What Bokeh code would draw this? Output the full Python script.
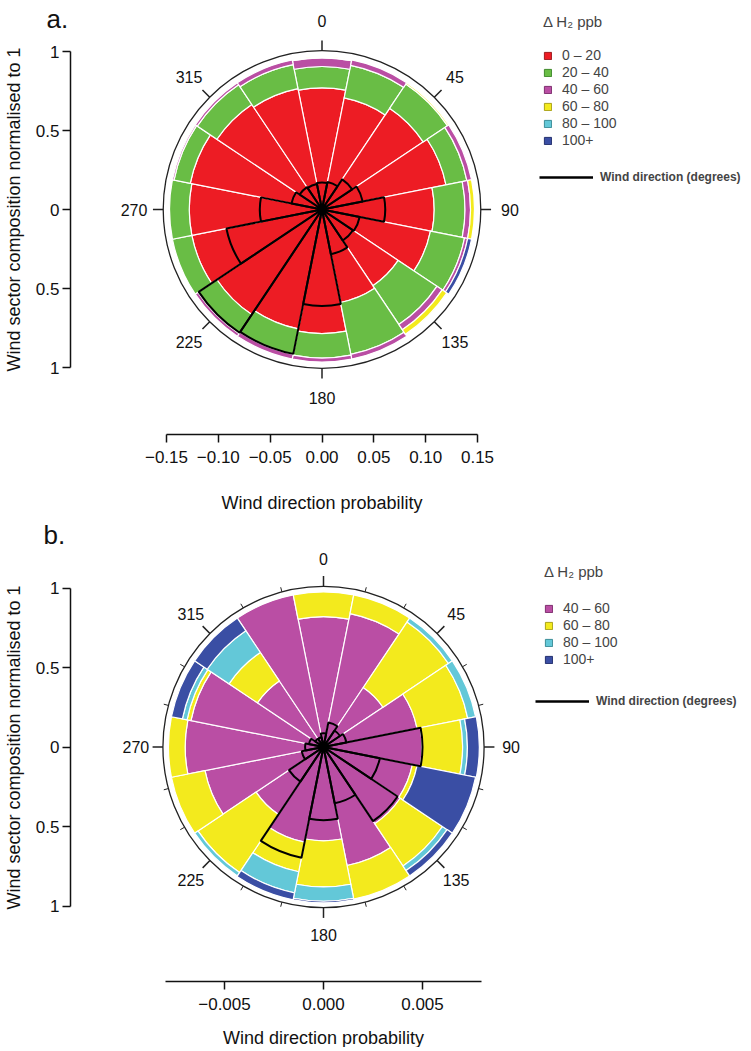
import numpy as np
from bokeh.plotting import figure
from bokeh.models import (LinearAxis, Range1d, FixedTicker, Legend, LegendItem,
                          Label, ColumnDataSource)
from bokeh.layouts import column
from bokeh.embed import file_html
from bokeh.resources import INLINE
from bokeh.core.properties import value

# ---------------- data ----------------
DIRECTIONS = [0, 22.5, 45, 67.5, 90, 112.5, 135, 157.5,
              180, 202.5, 225, 247.5, 270, 292.5, 315, 337.5]
DIR_LABEL_DEG = [0, 45, 90, 135, 180, 225, 270, 315]
DIR_LABELS = ["0", "45", "90", "135", "180", "225", "270", "315"]
MINOR_DEG_B = [15, 30, 60, 75, 105, 120, 150, 165, 195, 210, 240, 255, 285, 300, 330, 345]

COMP_TICKS = [-1, -0.5, 0, 0.5, 1]
COMP_TICK_LABELS = ["1", "0.5", "0", "0.5", "1"]

# panel a : share of each Delta H2 class per wind sector
A_CLASSES = ["0 – 20", "20 – 40", "40 – 60", "60 – 80", "80 – 100", "100+"]
A_0_20 = [0.77, 0.72, 0.77, 0.80, 0.71, 0.70, 0.58, 0.60,
          0.785, 0.77, 0.80, 0.84, 0.84, 0.85, 0.80, 0.78]
A_20_40 = [0.135, 0.21, 0.185, 0.135, 0.195, 0.22, 0.295, 0.335,
           0.155, 0.165, 0.145, 0.125, 0.125, 0.105, 0.15, 0.155]
A_40_60 = [0.055, 0.035, 0.0, 0.03, 0.035, 0.02, 0.04, 0.03,
           0.025, 0.03, 0.02, 0.0, 0.0, 0.01, 0.015, 0.03]
A_60_80 = [0.005, 0.0, 0.01, 0.0, 0.025, 0.0, 0.035, 0.0,
           0.0, 0.0, 0.0, 0.0, 0.0, 0.0, 0.0, 0.0]
A_80_100 = [0.0] * 16
A_100P = [0.0, 0.0, 0.0, 0.0, 0.0, 0.025, 0.0, 0.0,
          0.0, 0.0, 0.0, 0.0, 0.0, 0.0, 0.0, 0.0]
A_PROB = [0.026, 0.027, 0.035, 0.040, 0.061, 0.037, 0.036, 0.044,
          0.093, 0.142, 0.143, 0.094, 0.060, 0.030, 0.026, 0.025]
A_PROB_TICKS = [-0.15, -0.10, -0.05, 0.0, 0.05, 0.10, 0.15]
A_PROB_TICK_LABELS = ["−0.15", "−0.10", "−0.05", "0.00", "0.05", "0.10", "0.15"]

# panel b
B_CLASSES = ["40 – 60", "60 – 80", "80 – 100", "100+"]
B_40_60 = [0.82, 0.855, 0.45, 0.60, 0.62, 0.57, 0.58, 0.76,
           0.59, 0.61, 0.51, 0.76, 0.87, 0.85, 0.50, 0.975]
B_60_80 = [0.155, 0.12, 0.495, 0.325, 0.255, 0.03, 0.32, 0.215,
           0.29, 0.19, 0.44, 0.215, 0.105, 0.025, 0.215, 0.0]
B_80_100 = [0.0, 0.0, 0.03, 0.05, 0.03, 0.0, 0.035, 0.0,
            0.09, 0.135, 0.025, 0.0, 0.0, 0.03, 0.165, 0.0]
B_100P = [0.0, 0.0, 0.0, 0.0, 0.075, 0.375, 0.04, 0.0,
          0.01, 0.045, 0.0, 0.0, 0.0, 0.07, 0.095, 0.0]
B_PROB = [0.0007, 0.00126, 0.0010, 0.00118, 0.0050, 0.0029, 0.0045, 0.0029,
          0.0037, 0.0057, 0.0021, 0.00112, 0.00093, 0.00075, 0.0005, 0.0005]
B_PROB_TICKS = [-0.005, 0.0, 0.005]
B_PROB_TICK_LABELS = ["−0.005", "0.000", "0.005"]

COLORS = {"0 – 20": "#ED1C24", "20 – 40": "#69BD45", "40 – 60": "#BA4EA4",
          "60 – 80": "#F3EA1D", "80 – 100": "#63C8D8", "100+": "#3A4EA4"}
EDGES = {"0 – 20": "#9E1B1F", "20 – 40": "#3F8A2C", "40 – 60": "#7E2F6F",
         "60 – 80": "#A9A21A", "80 – 100": "#3C8D98", "100+": "#24306E"}

FONT = "Liberation Sans"
FIG_W = 745


def make_panel(letter, classes, series, prob, k_prob, prob_ticks, prob_labels,
               prob_bounds, fig_h, cx, cy, unit, axis_x, axis_y, circle_r,
               label_r, minor_deg, legend_pos, line_legend_pos, title_standoff,
               xlab_standoff, xlab_size, letter_pos):
    # all layout positions in canvas pixels from the top-left corner
    x0 = -cx / unit
    x1 = (FIG_W - cx) / unit
    y1 = cy / unit
    y0 = -(fig_h - cy) / unit
    p = figure(width=FIG_W, height=fig_h, x_range=Range1d(x0, x1), y_range=Range1d(y0, y1),
               x_axis_type=None, y_axis_type=None, toolbar_location=None,
               output_backend="svg", min_border=0, outline_line_color=None)

    dirs = np.array(DIRECTIONS, dtype=float)
    start = np.radians(90.0 - dirs - 11.25)
    end = np.radians(90.0 - dirs + 11.25)

    # stacked composition wedges
    inner = np.zeros(len(dirs))
    legend_renderers = []
    for cls, vals in zip(classes, series):
        vals = np.array(vals, dtype=float)
        outer = inner + vals
        keep = vals > 0
        src = ColumnDataSource(dict(inner=inner[keep], outer=outer[keep],
                                    start=start[keep], end=end[keep]))
        p.annular_wedge(x=0, y=0, inner_radius="inner", outer_radius="outer",
                        start_angle="start", end_angle="end",
                        source=src, fill_color=COLORS[cls], line_color="white",
                        line_width=1.2)
        inner = outer
        nan = np.array([np.nan])
        legend_renderers.append(
            p.quad(left=nan, right=nan, top=nan, bottom=nan, fill_color=COLORS[cls],
                   line_color=EDGES[cls], line_width=1))

    # outer circle and direction ticks
    p.circle(x=0, y=0, radius=circle_r, fill_color=None, line_color="#222222",
             line_width=1.3)
    lab = np.radians(np.array(DIR_LABEL_DEG, dtype=float))
    p.segment(x0=circle_r * np.sin(lab), y0=circle_r * np.cos(lab),
              x1=(circle_r + 0.065) * np.sin(lab), y1=(circle_r + 0.065) * np.cos(lab),
              line_color="#222222", line_width=1.5)
    if minor_deg:
        mn = np.radians(np.array(minor_deg, dtype=float))
        p.segment(x0=circle_r * np.sin(mn), y0=circle_r * np.cos(mn),
                  x1=(circle_r + 0.03) * np.sin(mn), y1=(circle_r + 0.03) * np.cos(mn),
                  line_color="#222222", line_width=1)
    p.text(x=label_r * np.sin(lab), y=label_r * np.cos(lab), text=DIR_LABELS,
           text_align="center", text_baseline="middle", text_font=value(FONT),
           text_font_size="16px", text_color="#111111")

    # wind direction probability outlines
    psrc = ColumnDataSource(dict(r=np.array(prob) / k_prob, start=start, end=end))
    p.wedge(x=0, y=0, radius="r", start_angle="start", end_angle="end",
            source=psrc, fill_color=None, line_color="black", line_width=2)
    p.scatter(x=[0], y=[0], size=9, color="black")

    # left composition axis (drawn at a fixed position inside the canvas)
    yax = LinearAxis(ticker=FixedTicker(ticks=COMP_TICKS),
                     major_label_overrides=dict(zip(COMP_TICKS, COMP_TICK_LABELS)),
                     bounds=(-1, 1), axis_label="Wind sector composition normalised to 1",
                     fixed_location=(axis_x - cx) / unit)
    # bottom probability axis
    p.extra_x_ranges = {"prob": Range1d(x0 * k_prob, x1 * k_prob)}
    xax = LinearAxis(x_range_name="prob", ticker=FixedTicker(ticks=prob_ticks),
                     major_label_overrides=dict(zip(prob_ticks, prob_labels)),
                     bounds=prob_bounds, axis_label="Wind direction probability",
                     fixed_location=-(axis_y - cy) / unit)
    for ax in (yax, xax):
        ax.axis_line_color = "#111111"
        ax.axis_line_width = 1.5
        ax.major_tick_line_color = "#111111"
        ax.major_tick_line_width = 1.5
        ax.major_tick_out = 8
        ax.major_tick_in = 0
        ax.minor_tick_out = 0
        ax.minor_tick_in = 0
        ax.major_label_text_font = FONT
        ax.major_label_text_font_size = "17px"
        ax.major_label_text_color = "#111111"
        ax.axis_label_text_font = FONT
        ax.axis_label_text_font_size = "18px"
        ax.axis_label_text_font_style = "normal"
        ax.axis_label_text_color = "#111111"
    yax.major_label_standoff = 3
    yax.axis_label_standoff = 9
    xax.major_label_standoff = 8
    xax.axis_label_standoff = xlab_standoff
    xax.axis_label_text_font_size = xlab_size
    p.add_layout(yax, "left")
    p.add_layout(xax, "below")

    # legends (positions: bottom-left corner, pixels up from the canvas bottom)
    leg = Legend(items=[LegendItem(label=c, renderers=[r])
                        for c, r in zip(classes, legend_renderers)],
                 location=legend_pos, title="Δ H₂ ppb",
                 title_text_font=FONT, title_text_font_size="15px",
                 title_text_font_style="normal", title_standoff=title_standoff,
                 label_text_font=FONT, label_text_font_size="14px",
                 glyph_width=9, glyph_height=9, label_height=13, spacing=1,
                 label_standoff=10, padding=0, margin=0,
                 border_line_alpha=0, background_fill_alpha=0)
    p.add_layout(leg)
    nan = np.array([np.nan])
    line_r = p.line(x=nan, y=nan, line_color="black", line_width=2.5)
    leg2 = Legend(items=[LegendItem(label="Wind direction (degrees)", renderers=[line_r])],
                  location=line_legend_pos, label_text_font=FONT,
                  label_text_font_size="12px", label_text_font_style="bold",
                  glyph_width=54, glyph_height=14, label_height=14,
                  label_standoff=7, padding=0, margin=0,
                  border_line_alpha=0, background_fill_alpha=0)
    p.add_layout(leg2)

    p.add_layout(Label(x=letter_pos[0], y=fig_h - letter_pos[1], x_units="screen",
                       y_units="screen", text=letter, text_font=FONT,
                       text_font_size="26px", text_color="#111111",
                       text_baseline="alphabetic"))
    return p


pa = make_panel("a.", A_CLASSES, [A_0_20, A_20_40, A_40_60, A_60_80, A_80_100, A_100P],
                A_PROB, 0.1524, A_PROB_TICKS, A_PROB_TICK_LABELS, (-0.15, 0.15),
                fig_h=515, cx=321.5, cy=209, unit=158, axis_x=70, axis_y=434,
                circle_r=1.005, label_r=1.19, minor_deg=None,
                legend_pos=(543, 367), line_legend_pos=(539, 331),
                title_standoff=17, xlab_standoff=27, xlab_size="18px",
                letter_pos=(46, 18))

pb = make_panel("b.", B_CLASSES, [B_40_60, B_60_80, B_80_100, B_100P],
                B_PROB, 0.00803, B_PROB_TICKS, B_PROB_TICK_LABELS, (-0.008, 0.008),
                fig_h=532, cx=323, cy=231.5, unit=159, axis_x=70, axis_y=466,
                circle_r=1.01, label_r=1.18, minor_deg=MINOR_DEG_B,
                legend_pos=(544, 380), line_legend_pos=(535, 339),
                title_standoff=20, xlab_standoff=15, xlab_size="18px",
                letter_pos=(43, 19))

layout = column(pa, pb, spacing=0)
open("out.html", "w").write(file_html(layout, INLINE))
